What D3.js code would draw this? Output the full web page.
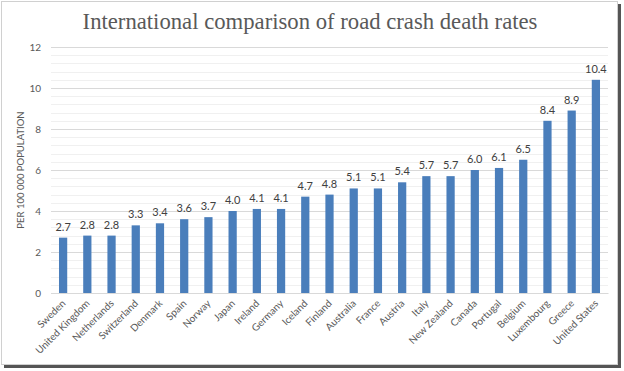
<!DOCTYPE html>
<html><head><meta charset="utf-8">
<script src="https://cdn.jsdelivr.net/npm/d3@7"></script>
<style>body{margin:0;background:#fff;}svg{display:block;}</style>
</head><body>
<svg id="c" width="624" height="371"></svg>
<script>
const countries = ["Sweden","United Kingdom","Netherlands","Switzerland","Denmark","Spain","Norway","Japan","Ireland","Germany","Iceland","Finland","Australia","France","Austria","Italy","New Zealand","Canada","Portugal","Belgium","Luxembourg","Greece","United States"];
const rates = [2.7,2.8,2.8,3.3,3.4,3.6,3.7,4.0,4.1,4.1,4.7,4.8,5.1,5.1,5.4,5.7,5.7,6.0,6.1,6.5,8.4,8.9,10.4];
const yTicks = [0,2,4,6,8,10,12];
const title = "International comparison of road crash death rates";
const yLabel = "PER 100 000 POPULATION";

const svg = d3.select("#c");
// frame with shadow
svg.append("rect").attr("x",4).attr("y",4).attr("width",617).attr("height",364).attr("fill","#555");
svg.append("rect").attr("x",1.5).attr("y",1.5).attr("width",616).attr("height",363).attr("fill","#fff").attr("stroke","#d0d0d0");

const x = d3.scaleBand().domain(countries).range([51,608]).paddingInner(0.66).paddingOuter(0.33);
const y = d3.scaleLinear().domain([0,12]).range([293,47]);

// minor grid
const minor = d3.range(0,12.01,0.4).filter(v=>Math.abs(v/2-Math.round(v/2))>1e-6);
svg.append("g").selectAll("line").data(minor).join("line")
  .attr("x1",51).attr("x2",608).attr("y1",d=>Math.round(y(d))+0.5).attr("y2",d=>Math.round(y(d))+0.5)
  .attr("stroke","#f0f0f0");
// major grid via axis
const yAxis = d3.axisLeft(y).tickValues(yTicks).tickSize(-557).tickPadding(10).tickFormat(d3.format("d"));
const gy = svg.append("g").attr("transform","translate(51,0)").call(yAxis);
gy.select(".domain").remove();
gy.selectAll(".tick line").attr("stroke","#d9d9d9");
gy.selectAll(".tick text").attr("fill","#595959").style("font-family","Lato, 'Noto Sans', sans-serif").style("font-size","10px");

// bars
svg.append("g").selectAll("rect").data(countries).join("rect")
  .attr("x",d=>x(d)).attr("width",x.bandwidth())
  .attr("y",(d,i)=>y(rates[i])).attr("height",(d,i)=>y(0)-y(rates[i]))
  .attr("fill","#4a7ebb");

// value labels
svg.append("g").selectAll("text").data(countries).join("text")
  .attr("x",d=>x(d)+x.bandwidth()/2).attr("y",(d,i)=>y(rates[i])-7)
  .attr("text-anchor","middle").attr("fill","#404040")
  .style("font-family","Lato, 'Noto Sans', sans-serif").style("font-size","11px")
  .text((d,i)=>rates[i].toFixed(1));

// x axis
const xAxis = d3.axisBottom(x).tickSize(0).tickPadding(0);
const gx = svg.append("g").attr("transform","translate(0,293)").call(xAxis);
gx.select(".domain").attr("stroke","#d9d9d9");
gx.selectAll(".tick text").attr("fill","#595959")
  .style("font-family","Lato, 'Noto Sans', sans-serif").style("font-size","10px")
  .attr("text-anchor","end").attr("dy",null).attr("y",null)
  .attr("transform","translate(3,11) rotate(-45)");

// title
svg.append("text").attr("x",310).attr("y",29).attr("text-anchor","middle")
  .attr("fill","#595959").style("font-family","'Liberation Serif', 'DejaVu Serif', serif").style("font-size","22.7px")
  .text(title);

// y label
svg.append("text").attr("transform","translate(24,170) rotate(-90)").attr("text-anchor","middle")
  .attr("fill","#595959").style("font-family","Lato, 'Noto Sans', sans-serif").style("font-size","9.5px")
  .text(yLabel);
</script>
</body></html>
